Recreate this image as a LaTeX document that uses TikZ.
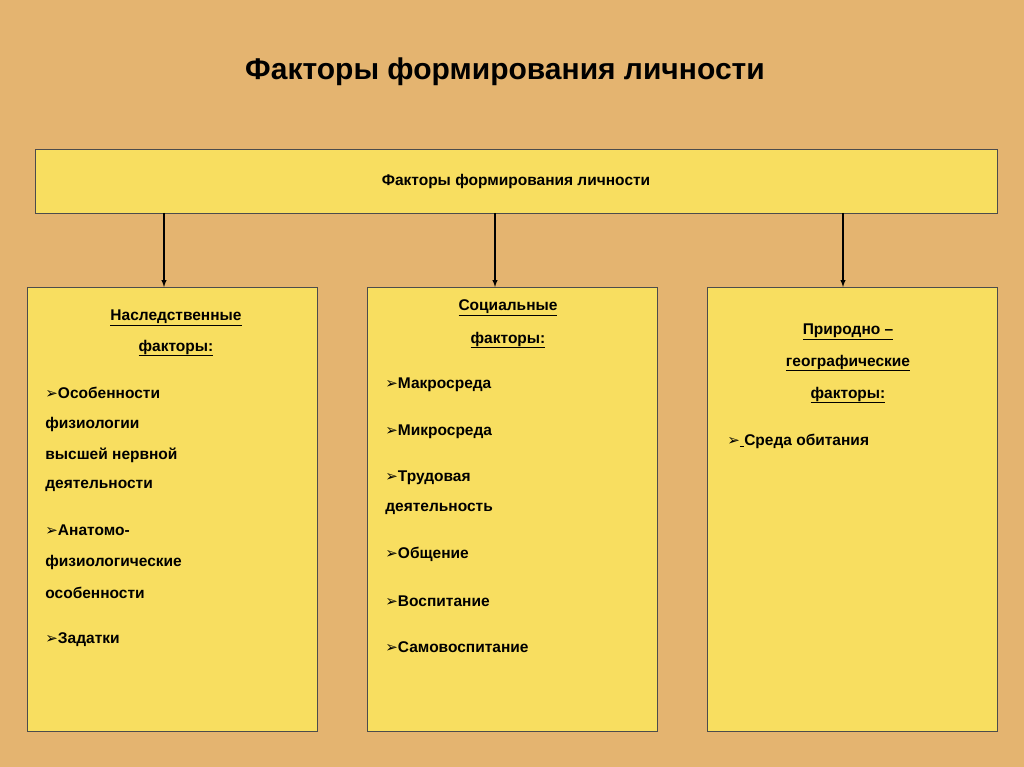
\documentclass[tikz,border=0pt]{standalone}
\usepackage{fontspec}
\setmainfont{Liberation Sans}
\newfontfamily\arrfont{DejaVu Sans}
\definecolor{bgtan}{RGB}{228,180,112}
\definecolor{boxyel}{RGB}{248,222,96}
\newcommand{\bul}{{\arrfont\fontsize{15}{15}\selectfont ➢}}
\newcommand{\ulin}[1]{\underline{#1}}
\begin{document}
\begin{tikzpicture}[x=1pt,y=-1pt, line width=0.8pt,
  box/.style={draw=black!70, fill=boxyel},
  itm/.style={anchor=west, font=\bfseries\fontsize{15.5}{15.5}\selectfont, inner sep=0pt},
  hdr/.style={font=\bfseries\fontsize{15.5}{15.5}\selectfont, inner sep=0pt}]
  \fill[bgtan] (0,0) rectangle (1024,767);
  \useasboundingbox (0,0) rectangle (1024,767);

  \node[font=\bfseries\fontsize{30}{30}\selectfont] (title) at (505,72) {Факторы формирования личности};

  \draw[box] (35,149) rectangle (997,213);
  \node[hdr] (top) at (516,181) {Факторы формирования личности};
  \draw[box] (27,287) rectangle (317,731);
  \draw[box] (367,287) rectangle (657,731);
  \draw[box] (707,287) rectangle (997,731);

  \coordinate (t1) at (164,213); \coordinate (b1) at (164,287);
  \coordinate (t2) at (495,213); \coordinate (b2) at (495,287);
  \coordinate (t3) at (843,213); \coordinate (b3) at (843,287);
  \foreach \i in {1,2,3}
    \draw[-latex, line width=1.4pt] (t\i) -- (b\i);

  % left column
  \node[hdr] (h1a) at (176,318) {\ulin{Наследственные}};
  \node[hdr] (h1b) at (176,348) {\ulin{факторы:}};
  \node[itm] (l1) at (45,393) {\bul Особенности};
  \node[itm] (l2) at (45,424) {физиологии};
  \node[itm] (l3) at (45,455) {высшей нервной};
  \node[itm] (l4) at (45,486) {деятельности};
  \node[itm] (l5) at (45,530) {\bul Анатомо-};
  \node[itm] (l6) at (45,562) {физиологические};
  \node[itm] (l7) at (45,593) {особенности};
  \node[itm] (l8) at (45,640) {\bul Задатки};

  % middle column
  \node[hdr] (h2a) at (508,308) {\ulin{Социальные}};
  \node[hdr] (h2b) at (508,340) {\ulin{факторы:}};
  \node[itm] (m1) at (385,385) {\bul Макросреда};
  \node[itm] (m2) at (385,432) {\bul Микросреда};
  \node[itm] (m3) at (385,478) {\bul Трудовая};
  \node[itm] (m4) at (385,509) {деятельность};
  \node[itm] (m5) at (385,554) {\bul Общение};
  \node[itm] (m6) at (385,601) {\bul Воспитание};
  \node[itm] (m7) at (385,647) {\bul Самовоспитание};

  % right column
  \node[hdr] (h3a) at (848,332) {\ulin{Природно –}};
  \node[hdr] (h3b) at (848,363) {\ulin{географические}};
  \node[hdr] (h3c) at (848,395) {\ulin{факторы:}};
  \node[itm] (r1) at (727,441) {\bul\ulin{\ }Среда обитания};
\end{tikzpicture}
\end{document}
